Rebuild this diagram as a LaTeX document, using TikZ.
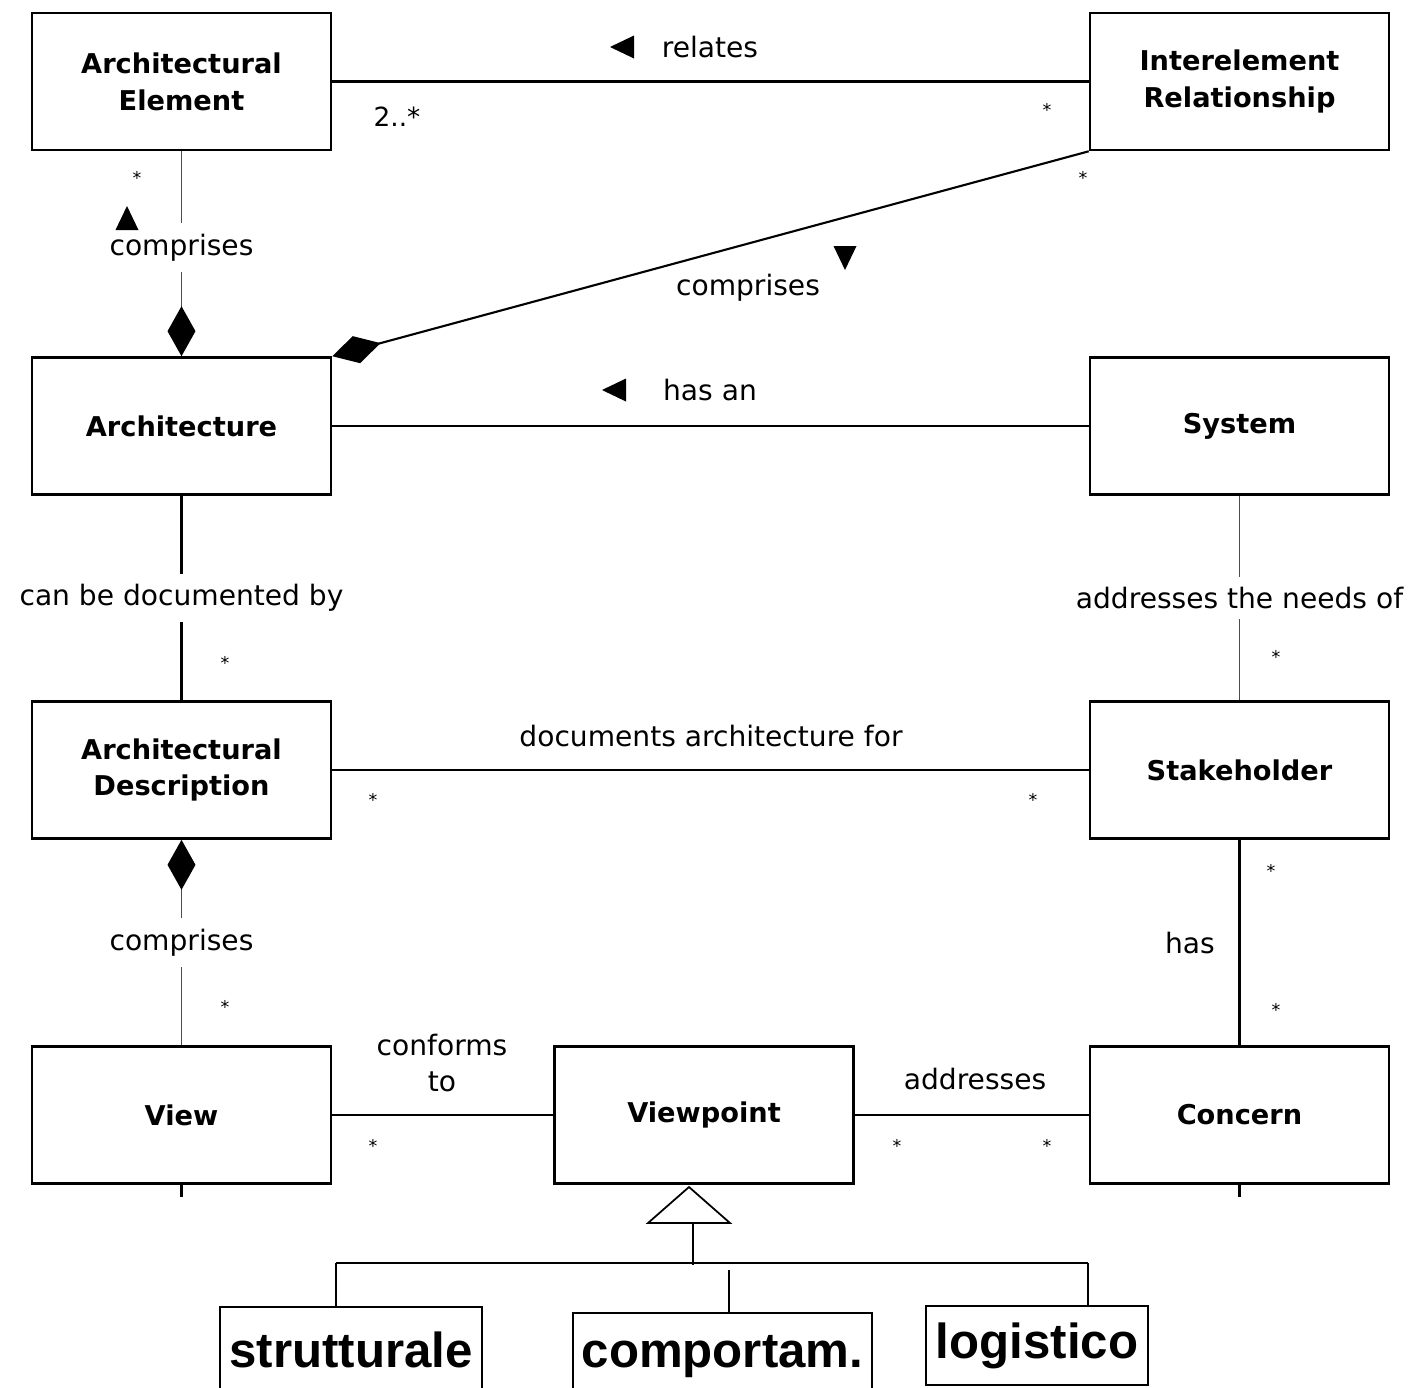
\documentclass[tikz,border=0pt]{standalone}
\usepackage{fontspec}
\setmainfont{DejaVu Sans}
\newfontfamily\subfont{Liberation Sans}
\usetikzlibrary{arrows.meta}

\begin{document}
\begin{tikzpicture}[
    x=0.02cm, y=-0.02cm,
    umlbox/.style={draw, line width=1.5pt, minimum width=5.98cm, minimum height=2.74cm,
        align=center, font=\fontsize{15.5}{21}\selectfont\bfseries},
    subbox/.style={draw, line width=1pt, inner sep=0pt, font=\subfont\fontsize{28}{30}\selectfont\bfseries},
    assoc/.style={line width=1.2pt},
    thinassoc/.style={line width=1pt, black!70},
    genline/.style={line width=1pt},
    lbl/.style={font=\fontsize{16}{21}\selectfont, inner sep=1pt, align=center, text=black},
    lblbreak/.style={lbl, fill=white, inner ysep=6pt},
    mult/.style={font=\fontsize{10}{10}\selectfont, inner sep=0pt},
    comp/.style={-{Diamond[length=1cm, width=0.56cm, color=black, fill=black]}},
    marker/.pic={
        \fill (-12,-11.5) -- (12,0) -- (-12,11.5) -- cycle;
    }
]
    \path[use as bounding box] (0,0) rectangle (1420,1387);
    \clip (0,0) rectangle (1420,1387);

    % classes
    \node[umlbox] (archelem) at (181.5,81.5) {Architectural\\Element};
    \node[umlbox] (interrel) at (1239.5,81.5) {Interelement\\Relationship};
    \node[umlbox] (arch) at (181.5,426) {Architecture};
    \node[umlbox] (system) at (1239.5,426) {System};
    \node[umlbox] (archdesc) at (181.5,770) {Architectural\\Description};
    \node[umlbox] (stakeholder) at (1239.5,770) {Stakeholder};
    \node[umlbox] (view) at (181.5,1115) {View};
    \node[umlbox] (viewpoint) at (704,1115) {Viewpoint};
    \node[umlbox] (concern) at (1239.5,1115) {Concern};

    % relates
    \draw[assoc] (archelem) -- (interrel);
    \node[lbl] (relates) at (710,47) {relates};
    \pic[rotate=180] at (622,47) {marker};
    \node[lbl, font=\fontsize{15}{15}\selectfont] (relmultA) at (397,117) {2..*};
    \node[mult] (relmultB) at (1047,110) {*};

    % comprises (elements)
    \draw[thinassoc, comp] (archelem) -- node[lblbreak, pos=0.47] (compA) {comprises} (arch);
    \pic[rotate=90] at (127,218) {marker};
    \node[mult] (compAmult) at (137,178) {*};

    % comprises (relationships)
    \draw[assoc, comp] (interrel.south west) -- (arch.north east);
    \node[lbl] (compB) at (748,288) {comprises};
    \pic[rotate=-90] at (845,258) {marker};
    \node[mult] (compBmult) at (1083,178) {*};

    % has an
    \draw[assoc] (arch) -- (system);
    \node[lbl] (hasan) at (710,390) {has an};
    \pic[rotate=180] at (614,390) {marker};

    % can be documented by
    \draw[assoc] (arch) -- node[lblbreak] (docby) {can be documented by} (archdesc);
    \node[mult] (docbymult) at (225,663) {*};

    % addresses the needs of
    \draw[thinassoc] (system) -- node[lblbreak] (needs) {addresses the needs of} (stakeholder);
    \node[mult] (needsmult) at (1276,657) {*};

    % documents architecture for
    \draw[assoc] (archdesc) -- (stakeholder);
    \node[lbl] (docfor) at (711,736) {documents architecture for};
    \node[mult] (docformultA) at (373,800) {*};
    \node[mult] (docformultB) at (1033,800) {*};

    % comprises (views)
    \draw[thinassoc, comp] (view) -- node[lblbreak] (compC) {comprises} (archdesc);
    \node[mult] (compCmult) at (225,1007) {*};

    % has
    \draw[assoc] (stakeholder) -- (concern);
    \node[lbl] (has) at (1190,943) {has};
    \node[mult] (hasmultA) at (1271,871) {*};
    \node[mult] (hasmultB) at (1276,1010) {*};

    % conforms to
    \draw[assoc] (view) -- (viewpoint);
    \node[lbl] (conforms) at (442,1063) {conforms\\to};
    \node[mult] (confmult) at (373,1146) {*};

    % addresses
    \draw[assoc] (viewpoint) -- (concern);
    \node[lbl] (addresses) at (975,1079) {addresses};
    \node[mult] (addrmultA) at (897,1146) {*};
    \node[mult] (addrmultB) at (1047,1146) {*};

    \draw[assoc] (view.south) -- ++(0,12);
    \draw[assoc] (concern.south) -- ++(0,12);

    % kinds of viewpoint
    \coordinate (genapex) at (689,1187);
    \draw[genline] (genapex) -- ++(-41,36) -- ++(82,0) -- cycle;
    \draw[genline] (693,1223) -- (693,1265);
    \coordinate (genbarL) at (336,1263);
    \coordinate (genbarM) at (729,1270);
    \coordinate (genbarR) at (1088,1263);
    \draw[genline] (genbarL) -- (genbarR);

    \node[subbox, minimum width=5.24cm, minimum height=1.72cm] (strutt) at (351,1350) {strutturale};
    \node[subbox, minimum width=5.98cm, minimum height=1.76cm] (comport) at (722.5,1357) {comportam.};
    \node[subbox, minimum width=4.44cm, minimum height=1.58cm] (logist) at (1037,1345.5) {logistico};

    \draw[genline] (genbarL) -- (genbarL |- strutt.north);
    \draw[genline] (genbarM) -- (genbarM |- comport.north);
    \draw[genline] (genbarR) -- (genbarR |- logist.north);
\end{tikzpicture}
\end{document}
